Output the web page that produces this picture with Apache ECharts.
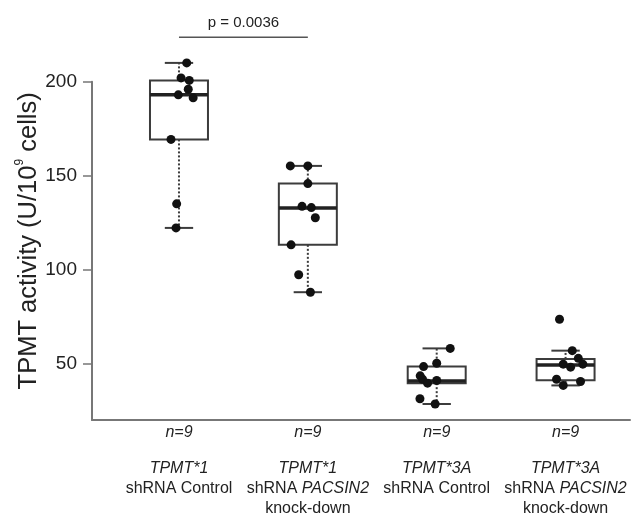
<!DOCTYPE html>
<html>
<head>
<meta charset="utf-8">
<style>html,body{margin:0;padding:0;background:#fff}#main{width:634px;height:515px}</style>
<script src="https://cdn.jsdelivr.net/npm/echarts@6/dist/echarts.min.js"></script>
</head>
<body>
<div id="main"></div>
<script>
const groups = [1, 2, 3, 4];
const nLabels = ['n=9', 'n=9', 'n=9', 'n=9'];
const genotypes = ['TPMT*1', 'TPMT*1', 'TPMT*3A', 'TPMT*3A'];
const shrnaLabels = ['shRNA Control', 'shRNA PACSIN2', 'shRNA Control', 'shRNA PACSIN2'];
const knockLabels = ['', 'knock-down', '', 'knock-down'];
const yTicks = [50, 100, 150, 200];

// [min, q1, median, q3, max]
const boxStats = [
  [122.2, 169.3, 193, 200.7, 210],
  [88, 113.2, 132.8, 145.8, 155.2],
  [28.5, 39.6, 40.8, 48.4, 58.1],
  [38.4, 41.2, 49.3, 52.5, 56.9]
];

// individual measurements and their horizontal jitter
const values1 = [210, 202, 200.7, 196, 193, 191.4, 169.3, 135, 122.2];
const jitter1 = [0.06, 0.016, 0.08, 0.072, -0.005, 0.11, -0.062, -0.018, -0.023];
const values2 = [155.2, 155.2, 145.8, 133.7, 133, 127.6, 113.2, 97.3, 88];
const jitter2 = [-0.136, 0, 0, -0.045, 0.027, 0.058, -0.13, -0.071, 0.02];
const values3 = [58.1, 48.4, 50.2, 43.5, 41.7, 39.6, 41, 31.3, 28.5];
const jitter3 = [0.105, -0.102, 0, -0.128, -0.11, -0.071, 0, -0.13, -0.012];
const values4 = [56.9, 52.8, 49.7, 48.1, 49.7, 41.7, 40.5, 38.4, 73.6];
const jitter4 = [0.052, 0.099, -0.018, 0.039, 0.134, -0.07, 0.116, -0.018, -0.047];

const pText = 'p = 0.0036';
const pLevel = 223.6;
const pPair = [1, 2];

const allValues = [values1, values2, values3, values4];
const allJitter = [jitter1, jitter2, jitter3, jitter4];

const font = "'Liberation Sans', Arial, sans-serif";
const boxColor = '#3c3c3c';
const boxHalf = 0.225;
const capHalf = 0.11;

const boxData = groups.map((g, i) => [g].concat(boxStats[i]));
const pointData = [];
groups.forEach((g, i) => {
  allValues[i].forEach((v, j) => pointData.push([g + allJitter[i][j], v]));
});

const chart = echarts.init(document.getElementById('main'));

chart.setOption({
  animation: false,
  grid: {left: 92, right: 4, top: 81.7, bottom: 95, outerBoundsMode: 'none'},
  xAxis: {
    type: 'value',
    min: 0.325,
    max: 4.5,
    splitLine: {show: false},
    axisTick: {show: false},
    axisLine: {lineStyle: {color: '#777', width: 2}},
    axisLabel: {
      customValues: groups,
      margin: 3,
      color: '#222',
      fontFamily: font,
      formatter(v) {
        const i = Math.round(v) - 1;
        const shrna = shrnaLabels[i].replace('PACSIN2', '}{i|PACSIN2');
        let s = '{n|' + nLabels[i] + '}\n{g| }\n{i|' + genotypes[i] + '}\n{r|' + shrna + '}';
        if (knockLabels[i]) s += '\n{r|' + knockLabels[i] + '}';
        return s;
      },
      rich: {
        n: {fontSize: 16, fontStyle: 'italic', lineHeight: 20, fontFamily: font, color: '#222'},
        g: {fontSize: 4, lineHeight: 16},
        i: {fontSize: 16, fontStyle: 'italic', lineHeight: 20, fontFamily: font, color: '#222'},
        r: {fontSize: 16, lineHeight: 20, fontFamily: font, color: '#222'}
      }
    }
  },
  yAxis: {
    type: 'value',
    min: 20,
    max: 200,
    splitLine: {show: false},
    axisLine: {show: true, lineStyle: {color: '#777', width: 2}},
    axisTick: {show: true, customValues: yTicks, length: 9, lineStyle: {color: '#777', width: 1.5}},
    axisLabel: {customValues: yTicks, fontSize: 19, color: '#222', fontFamily: font, margin: 15},
    name: '{a|TPMT activity (U/10}{s|9}{a| cells)}',
    nameLocation: 'middle',
    nameMoveOverlap: false,
    nameGap: 48,
    nameRotate: 90,
    nameTextStyle: {
      padding: [0, 0, 0, 20],
      rich: {
        a: {fontSize: 25.5, color: '#222', fontFamily: font, lineHeight: 30},
        s: {fontSize: 12, color: '#222', fontFamily: font, verticalAlign: 'top', lineHeight: 30, padding: [0, 0, 13, 0]}
      }
    }
  },
  series: [
    {
      type: 'custom',
      data: boxData,
      encode: {x: 0, y: [1, 2, 3, 4, 5]},
      z: 2,
      renderItem(params, api) {
        const x = api.value(0);
        const mn = api.value(1), q1 = api.value(2), md = api.value(3), q3 = api.value(4), mx = api.value(5);
        const tl = api.coord([x - boxHalf, q3]);
        const br = api.coord([x + boxHalf, q1]);
        const mL = api.coord([x - boxHalf, md]);
        const mR = api.coord([x + boxHalf, md]);
        const c3 = api.coord([x, q3]), cMax = api.coord([x, mx]);
        const c1 = api.coord([x, q1]), cMin = api.coord([x, mn]);
        const capTL = api.coord([x - capHalf, mx]), capTR = api.coord([x + capHalf, mx]);
        const capBL = api.coord([x - capHalf, mn]), capBR = api.coord([x + capHalf, mn]);
        const solid = {stroke: boxColor, lineWidth: 2};
        const dotted = {stroke: boxColor, lineWidth: 2, lineDash: [2, 2]};
        return {
          type: 'group',
          children: [
            {type: 'line', shape: {x1: c3[0], y1: c3[1], x2: cMax[0], y2: cMax[1]}, style: dotted},
            {type: 'line', shape: {x1: c1[0], y1: c1[1], x2: cMin[0], y2: cMin[1]}, style: dotted},
            {type: 'line', shape: {x1: capTL[0], y1: capTL[1], x2: capTR[0], y2: capTR[1]}, style: solid},
            {type: 'line', shape: {x1: capBL[0], y1: capBL[1], x2: capBR[0], y2: capBR[1]}, style: solid},
            {type: 'rect', shape: {x: tl[0], y: tl[1], width: br[0] - tl[0], height: br[1] - tl[1]},
              style: {fill: '#fff', stroke: boxColor, lineWidth: 2}},
            {type: 'line', shape: {x1: mL[0], y1: mL[1], x2: mR[0], y2: mR[1]},
              style: {stroke: '#222', lineWidth: 3.5}}
          ]
        };
      }
    },
    {
      type: 'scatter',
      data: pointData,
      symbolSize: 9,
      clip: false,
      z: 3,
      itemStyle: {color: '#111', opacity: 1}
    },
    {
      type: 'custom',
      data: [[pPair[0], pPair[1], pLevel]],
      encode: {x: [0, 1]},
      z: 3,
      renderItem(params, api) {
        const a = api.coord([api.value(0), api.value(2)]);
        const b = api.coord([api.value(1), api.value(2)]);
        return {
          type: 'group',
          children: [
            {type: 'line', shape: {x1: a[0], y1: a[1], x2: b[0], y2: b[1]}, style: {stroke: '#555', lineWidth: 1.5}},
            {type: 'text', x: (a[0] + b[0]) / 2, y: a[1] - 7,
              style: {text: pText, fontSize: 15, fontFamily: font, fill: '#222', align: 'center', verticalAlign: 'bottom'}}
          ]
        };
      }
    }
  ]
});
</script>
</body>
</html>
